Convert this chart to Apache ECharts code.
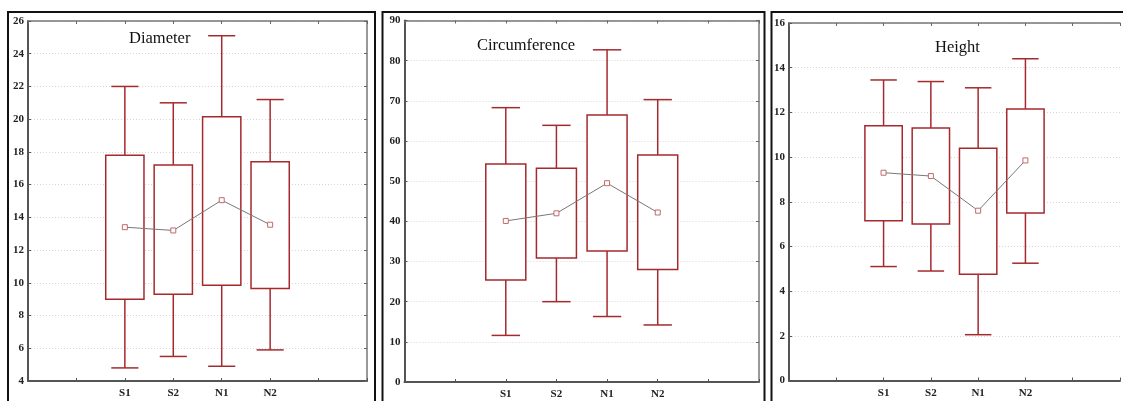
<!DOCTYPE html>
<html>
<head>
<meta charset="utf-8">
<style>
html,body{margin:0;padding:0;background:#fff;}
#chart{width:1123px;height:401px;}
</style>
<script src="https://cdn.jsdelivr.net/npm/echarts@6/dist/echarts.min.js"></script>
</head>
<body>
<div id="chart"></div>
<script>
// ---- data ----
const CATEGORIES = ['S1', 'S2', 'N1', 'N2'];
const TITLES = ['Diameter', 'Circumference', 'Height'];

// whisker low, box low, box high, whisker high, mean
const DIAM_LOW   = [4.8, 5.5, 4.9, 5.9];
const DIAM_Q1    = [9.0, 9.3, 9.85, 9.65];
const DIAM_Q3    = [17.8, 17.2, 20.15, 17.4];
const DIAM_HIGH  = [22.0, 21.0, 25.1, 21.2];
const DIAM_MEAN  = [13.4, 13.2, 15.05, 13.55];

const CIRC_LOW   = [11.6, 20.0, 16.3, 14.2];
const CIRC_Q1    = [25.4, 30.9, 32.6, 28.0];
const CIRC_Q3    = [54.3, 53.2, 66.5, 56.5];
const CIRC_HIGH  = [68.3, 63.9, 82.7, 70.3];
const CIRC_MEAN  = [40.1, 42.0, 49.5, 42.2];

const HGT_LOW    = [5.1, 4.9, 2.05, 5.25];
const HGT_Q1     = [7.15, 7.0, 4.75, 7.5];
const HGT_Q3     = [11.4, 11.3, 10.4, 12.15];
const HGT_HIGH   = [13.45, 13.38, 13.1, 14.4];
const HGT_MEAN   = [9.3, 9.15, 7.6, 9.85];

const Y_MIN = [4, 0, 0];
const Y_MAX = [26, 90, 16];
const Y_STEP = [2, 10, 2];

// x positions: two empty slots on the left, categories, two empty on the right
const X_LABELS = ['', ''].concat(CATEGORIES, ['', '']);

const PANELS = [
  [DIAM_LOW, DIAM_Q1, DIAM_Q3, DIAM_HIGH, DIAM_MEAN],
  [CIRC_LOW, CIRC_Q1, CIRC_Q3, CIRC_HIGH, CIRC_MEAN],
  [HGT_LOW, HGT_Q1, HGT_Q3, HGT_HIGH, HGT_MEAN]
];

// ---- styles / layout ----
const BOX_COLOR = '#a52a2e';
const GRIDS = [
  {left: 28, top: 21, width: 339, height: 360},
  {left: 404.5, top: 20.5, width: 354.5, height: 361.5},
  {left: 789, top: 23, width: 336, height: 357.5}
];
const SHOW_RIGHT_BORDER = [true, true, false];
const TITLE_POS = [[129, 30], [477, 37.5], [935, 39.5]];
const FRAMES = [[8, 12, 367, 400], [382.5, 12, 382, 400], [771.5, 12, 400, 400]];

const labelFont = {fontFamily: 'Liberation Serif', fontWeight: 'bold', fontSize: 11, color: '#222'};

function renderBox(params, api) {
  const x = api.value(0);
  const lo = api.coord([x, api.value(1)]);
  const q1 = api.coord([x, api.value(2)]);
  const q3 = api.coord([x, api.value(3)]);
  const hi = api.coord([x, api.value(4)]);
  const band = api.size([1, 0])[0];
  const bw = band * 0.79 / 2;
  const cw = band * 0.56 / 2;
  const st = {stroke: BOX_COLOR, lineWidth: 1.5, fill: null};
  return {
    type: 'group',
    children: [
      {type: 'line', shape: {x1: hi[0], y1: hi[1], x2: q3[0], y2: q3[1]}, style: st},
      {type: 'line', shape: {x1: lo[0], y1: lo[1], x2: q1[0], y2: q1[1]}, style: st},
      {type: 'line', shape: {x1: hi[0] - cw, y1: hi[1], x2: hi[0] + cw, y2: hi[1]}, style: st},
      {type: 'line', shape: {x1: lo[0] - cw, y1: lo[1], x2: lo[0] + cw, y2: lo[1]}, style: st},
      {type: 'rect', shape: {x: q3[0] - bw, y: q3[1], width: 2 * bw, height: q1[1] - q3[1]},
       style: {stroke: BOX_COLOR, lineWidth: 1.5, fill: '#fff'}}
    ]
  };
}

const grid = [], xAxis = [], yAxis = [], series = [], title = [], graphic = [];

PANELS.forEach((p, i) => {
  grid.push(Object.assign({show: false}, GRIDS[i]));
  const xBase = {
    type: 'value', gridIndex: i, min: 0, max: X_LABELS.length - 1, interval: 1,
    splitLine: {show: false}
  };
  xAxis.push(Object.assign({}, xBase, {
    position: 'bottom',
    axisLine: {show: true, onZero: false, lineStyle: {color: '#555', width: 2}},
    axisTick: {show: true, inside: true, length: 3, lineStyle: {color: '#555'}},
    axisLabel: Object.assign({margin: 7, formatter: v => X_LABELS[v] || ''}, labelFont)
  }));
  xAxis.push(Object.assign({}, xBase, {
    position: 'top',
    axisLine: {show: true, onZero: false, lineStyle: {color: '#777', width: 1.5}},
    axisTick: {show: true, inside: true, length: 3, lineStyle: {color: '#666'}},
    axisLabel: {show: false}
  }));
  const yBase = {type: 'value', gridIndex: i, min: Y_MIN[i], max: Y_MAX[i], interval: Y_STEP[i]};
  yAxis.push(Object.assign({}, yBase, {
    position: 'left',
    axisLine: {show: true, onZero: false, lineStyle: {color: '#555', width: 2}},
    axisTick: {show: true, inside: true, length: 3, lineStyle: {color: '#555'}},
    axisLabel: Object.assign({margin: 4}, labelFont),
    splitLine: {show: true, lineStyle: {color: '#d6d6d6', type: [1, 2], width: 1}}
  }));
  yAxis.push(Object.assign({}, yBase, {
    position: 'right',
    axisLine: {show: SHOW_RIGHT_BORDER[i], onZero: false, lineStyle: {color: '#777', width: 1.5}},
    axisTick: {show: SHOW_RIGHT_BORDER[i], inside: true, length: 3, lineStyle: {color: '#666'}},
    axisLabel: {show: false},
    splitLine: {show: false}
  }));

  const boxData = CATEGORIES.map((c, k) => [k + 2, p[0][k], p[1][k], p[2][k], p[3][k]]);
  const meanData = CATEGORIES.map((c, k) => [k + 2, p[4][k]]);
  series.push({
    type: 'custom', xAxisIndex: 2 * i, yAxisIndex: 2 * i,
    renderItem: renderBox, data: boxData, encode: {x: 0, y: [1, 2, 3, 4]}, z: 2, silent: true
  });
  series.push({
    type: 'line', xAxisIndex: 2 * i, yAxisIndex: 2 * i, data: meanData,
    symbol: 'rect', symbolSize: 5, showSymbol: true,
    lineStyle: {color: '#777', width: 1},
    itemStyle: {color: '#fff', borderColor: '#c06a6a', borderWidth: 1},
    z: 3, silent: true, animation: false
  });
  title.push({
    text: TITLES[i], left: TITLE_POS[i][0], top: TITLE_POS[i][1], padding: 0,
    textStyle: {fontFamily: 'Liberation Serif', fontWeight: 'normal', fontSize: 16.5, color: '#111'}
  });
  graphic.push({
    type: 'rect', shape: {x: FRAMES[i][0], y: FRAMES[i][1], width: FRAMES[i][2], height: FRAMES[i][3]},
    style: {fill: null, stroke: '#111', lineWidth: 2}, z: 100, silent: true
  });
});

const chart = echarts.init(document.getElementById('chart'), null, {renderer: 'canvas'});
chart.setOption({
  backgroundColor: '#fff',
  animation: false,
  title, grid, xAxis, yAxis, series, graphic
});
</script>
</body>
</html>
